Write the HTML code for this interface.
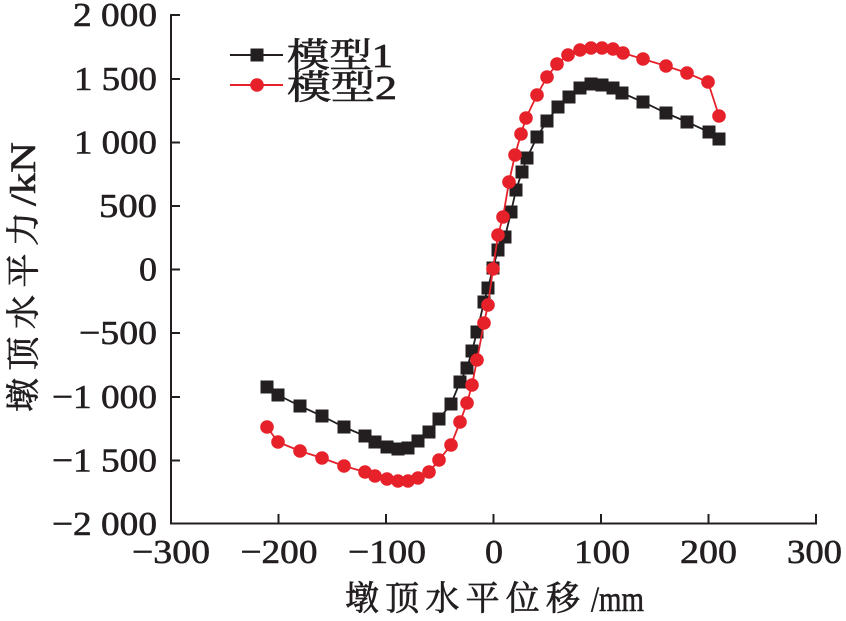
<!DOCTYPE html>
<html>
<head>
<meta charset="utf-8">
<style>
html,body{margin:0;padding:0;background:#fff;}
svg{display:block;}
.t{font-family:"Liberation Serif","Noto Serif CJK SC",serif;fill:#231f20;stroke:#231f20;stroke-width:0.6;}
.c{font-family:"Liberation Serif","Noto Serif CJK SC","Noto Sans CJK SC",serif;fill:#231f20;stroke:#231f20;stroke-width:0.7;}
</style>
</head>
<body>
<svg width="846" height="621" viewBox="0 0 846 621" xmlns="http://www.w3.org/2000/svg">
<rect width="846" height="621" fill="#fff"/>

<g stroke="#231f20" stroke-width="2" fill="none">
  <line x1="171" y1="14" x2="171" y2="524.5"/>
  <line x1="170" y1="523.5" x2="817" y2="523.5"/>
  <line x1="171" y1="15" x2="180" y2="15"/>
  <line x1="171" y1="79" x2="180" y2="79"/>
  <line x1="171" y1="142.5" x2="180" y2="142.5"/>
  <line x1="171" y1="206" x2="180" y2="206"/>
  <line x1="171" y1="269.5" x2="180" y2="269.5"/>
  <line x1="171" y1="333" x2="180" y2="333"/>
  <line x1="171" y1="397" x2="180" y2="397"/>
  <line x1="171" y1="460.5" x2="180" y2="460.5"/>
  <line x1="278.5" y1="523" x2="278.5" y2="514"/>
  <line x1="386" y1="523" x2="386" y2="514"/>
  <line x1="493.5" y1="523" x2="493.5" y2="514"/>
  <line x1="601" y1="523" x2="601" y2="514"/>
  <line x1="708.5" y1="523" x2="708.5" y2="514"/>
  <line x1="816" y1="523" x2="816" y2="514"/>
</g>

<g class="t" font-size="34">
  <text x="73" y="26" textLength="84" lengthAdjust="spacingAndGlyphs">2 000</text>
  <text x="74" y="90" textLength="83" lengthAdjust="spacingAndGlyphs">1 500</text>
  <text x="74" y="153.5" textLength="83" lengthAdjust="spacingAndGlyphs">1 000</text>
  <text x="99" y="217" textLength="58" lengthAdjust="spacingAndGlyphs">500</text>
  <text x="139" y="280.5" textLength="18" lengthAdjust="spacingAndGlyphs">0</text>
  <text x="79" y="344" textLength="78" lengthAdjust="spacingAndGlyphs">−500</text>
  <text x="52" y="408" textLength="105" lengthAdjust="spacingAndGlyphs">−1 000</text>
  <text x="52" y="471.5" textLength="105" lengthAdjust="spacingAndGlyphs">−1 500</text>
  <text x="52" y="535" textLength="105" lengthAdjust="spacingAndGlyphs">−2 000</text>
</g>

<g class="t" font-size="34">
  <text x="132" y="563" textLength="78" lengthAdjust="spacingAndGlyphs">−300</text>
  <text x="240.5" y="563" textLength="77" lengthAdjust="spacingAndGlyphs">−200</text>
  <text x="348" y="563" textLength="78" lengthAdjust="spacingAndGlyphs">−100</text>
  <text x="485" y="563" textLength="18" lengthAdjust="spacingAndGlyphs">0</text>
  <text x="574" y="563" textLength="56" lengthAdjust="spacingAndGlyphs">100</text>
  <text x="680" y="563" textLength="57" lengthAdjust="spacingAndGlyphs">200</text>
  <text x="787" y="563" textLength="55" lengthAdjust="spacingAndGlyphs">300</text>
</g>

<text class="c" x="345" y="610" font-size="34" textLength="235" lengthAdjust="spacing">墩顶水平位移</text>
<text class="t" x="591" y="611" font-size="36" textLength="53" lengthAdjust="spacingAndGlyphs">/mm</text>

<g transform="rotate(-90)">
  <text class="c" x="-412" y="35" font-size="34" textLength="200" lengthAdjust="spacing">墩顶水平力</text>
  <text class="t" x="-206" y="35" font-size="36" textLength="64" lengthAdjust="spacingAndGlyphs">/kN</text>
</g>

<line x1="230" y1="55" x2="283" y2="55" stroke="#231f20" stroke-width="2"/>
<rect x="250.5" y="48.5" width="13" height="13" fill="#231f20"/>
<line x1="230" y1="85" x2="283" y2="85" stroke="#e62129" stroke-width="2"/>
<circle cx="257" cy="85" r="6.8" fill="#e62129"/>
<text class="c" x="287" y="67" font-size="34" textLength="106" lengthAdjust="spacingAndGlyphs">模型1</text>
<text class="c" x="287" y="99" font-size="34" textLength="110" lengthAdjust="spacingAndGlyphs">模型2</text>

<polyline fill="none" stroke="#231f20" stroke-width="1.8" points="267,387 278,395 300,406 322,416 344,427 365,436 375,442 387,447 398,449 408,448 418,441 429,432 439,419 451,404 460,382 467,368 472,351 477,332 484,302 488,288 493,268 498,250 505,237 511,212 516,190 522,172 527,158 537,137 547,121 558,107 569,97 580,88 591,84 602,85 613,88 622,93 643,102 666,113 687,122 709,132 719,139"/>
<g fill="#231f20">
<rect x="260.5" y="380.5" width="13" height="13"/>
<rect x="271.5" y="388.5" width="13" height="13"/>
<rect x="293.5" y="399.5" width="13" height="13"/>
<rect x="315.5" y="409.5" width="13" height="13"/>
<rect x="337.5" y="420.5" width="13" height="13"/>
<rect x="358.5" y="429.5" width="13" height="13"/>
<rect x="368.5" y="435.5" width="13" height="13"/>
<rect x="380.5" y="440.5" width="13" height="13"/>
<rect x="391.5" y="442.5" width="13" height="13"/>
<rect x="401.5" y="441.5" width="13" height="13"/>
<rect x="411.5" y="434.5" width="13" height="13"/>
<rect x="422.5" y="425.5" width="13" height="13"/>
<rect x="432.5" y="412.5" width="13" height="13"/>
<rect x="444.5" y="397.5" width="13" height="13"/>
<rect x="453.5" y="375.5" width="13" height="13"/>
<rect x="460.5" y="361.5" width="13" height="13"/>
<rect x="465.5" y="344.5" width="13" height="13"/>
<rect x="470.5" y="325.5" width="13" height="13"/>
<rect x="477.5" y="295.5" width="13" height="13"/>
<rect x="481.5" y="281.5" width="13" height="13"/>
<rect x="486.5" y="261.5" width="13" height="13"/>
<rect x="491.5" y="243.5" width="13" height="13"/>
<rect x="498.5" y="230.5" width="13" height="13"/>
<rect x="504.5" y="205.5" width="13" height="13"/>
<rect x="509.5" y="183.5" width="13" height="13"/>
<rect x="515.5" y="165.5" width="13" height="13"/>
<rect x="520.5" y="151.5" width="13" height="13"/>
<rect x="530.5" y="130.5" width="13" height="13"/>
<rect x="540.5" y="114.5" width="13" height="13"/>
<rect x="551.5" y="100.5" width="13" height="13"/>
<rect x="562.5" y="90.5" width="13" height="13"/>
<rect x="573.5" y="81.5" width="13" height="13"/>
<rect x="584.5" y="77.5" width="13" height="13"/>
<rect x="595.5" y="78.5" width="13" height="13"/>
<rect x="606.5" y="81.5" width="13" height="13"/>
<rect x="615.5" y="86.5" width="13" height="13"/>
<rect x="636.5" y="95.5" width="13" height="13"/>
<rect x="659.5" y="106.5" width="13" height="13"/>
<rect x="680.5" y="115.5" width="13" height="13"/>
<rect x="702.5" y="125.5" width="13" height="13"/>
<rect x="712.5" y="132.5" width="13" height="13"/>
</g>

<polyline fill="none" stroke="#e62129" stroke-width="1.8" points="267,427 278,442 300,451 322,458 344,466 365,472 375,476 387,479 398,481 408,481 418,478 429,472 439,460 451,445 460,422 467,403 472,385 477,360 484,323 488,305 493,269 498,235 503,217 509,182 515,155 521,134 526,118 537,95 547,77 557,64 568,55 580,50 591,48 602,48 613,49 623,53 643,59 666,66 687,73 708,82 719,116"/>
<g fill="#e62129">
<circle cx="267" cy="427" r="6.8"/>
<circle cx="278" cy="442" r="6.8"/>
<circle cx="300" cy="451" r="6.8"/>
<circle cx="322" cy="458" r="6.8"/>
<circle cx="344" cy="466" r="6.8"/>
<circle cx="365" cy="472" r="6.8"/>
<circle cx="375" cy="476" r="6.8"/>
<circle cx="387" cy="479" r="6.8"/>
<circle cx="398" cy="481" r="6.8"/>
<circle cx="408" cy="481" r="6.8"/>
<circle cx="418" cy="478" r="6.8"/>
<circle cx="429" cy="472" r="6.8"/>
<circle cx="439" cy="460" r="6.8"/>
<circle cx="451" cy="445" r="6.8"/>
<circle cx="460" cy="422" r="6.8"/>
<circle cx="467" cy="403" r="6.8"/>
<circle cx="472" cy="385" r="6.8"/>
<circle cx="477" cy="360" r="6.8"/>
<circle cx="484" cy="323" r="6.8"/>
<circle cx="488" cy="305" r="6.8"/>
<circle cx="493" cy="269" r="6.8"/>
<circle cx="498" cy="235" r="6.8"/>
<circle cx="503" cy="217" r="6.8"/>
<circle cx="509" cy="182" r="6.8"/>
<circle cx="515" cy="155" r="6.8"/>
<circle cx="521" cy="134" r="6.8"/>
<circle cx="526" cy="118" r="6.8"/>
<circle cx="537" cy="95" r="6.8"/>
<circle cx="547" cy="77" r="6.8"/>
<circle cx="557" cy="64" r="6.8"/>
<circle cx="568" cy="55" r="6.8"/>
<circle cx="580" cy="50" r="6.8"/>
<circle cx="591" cy="48" r="6.8"/>
<circle cx="602" cy="48" r="6.8"/>
<circle cx="613" cy="49" r="6.8"/>
<circle cx="623" cy="53" r="6.8"/>
<circle cx="643" cy="59" r="6.8"/>
<circle cx="666" cy="66" r="6.8"/>
<circle cx="687" cy="73" r="6.8"/>
<circle cx="708" cy="82" r="6.8"/>
<circle cx="719" cy="116" r="6.8"/>
</g>
</svg>
</body>
</html>
